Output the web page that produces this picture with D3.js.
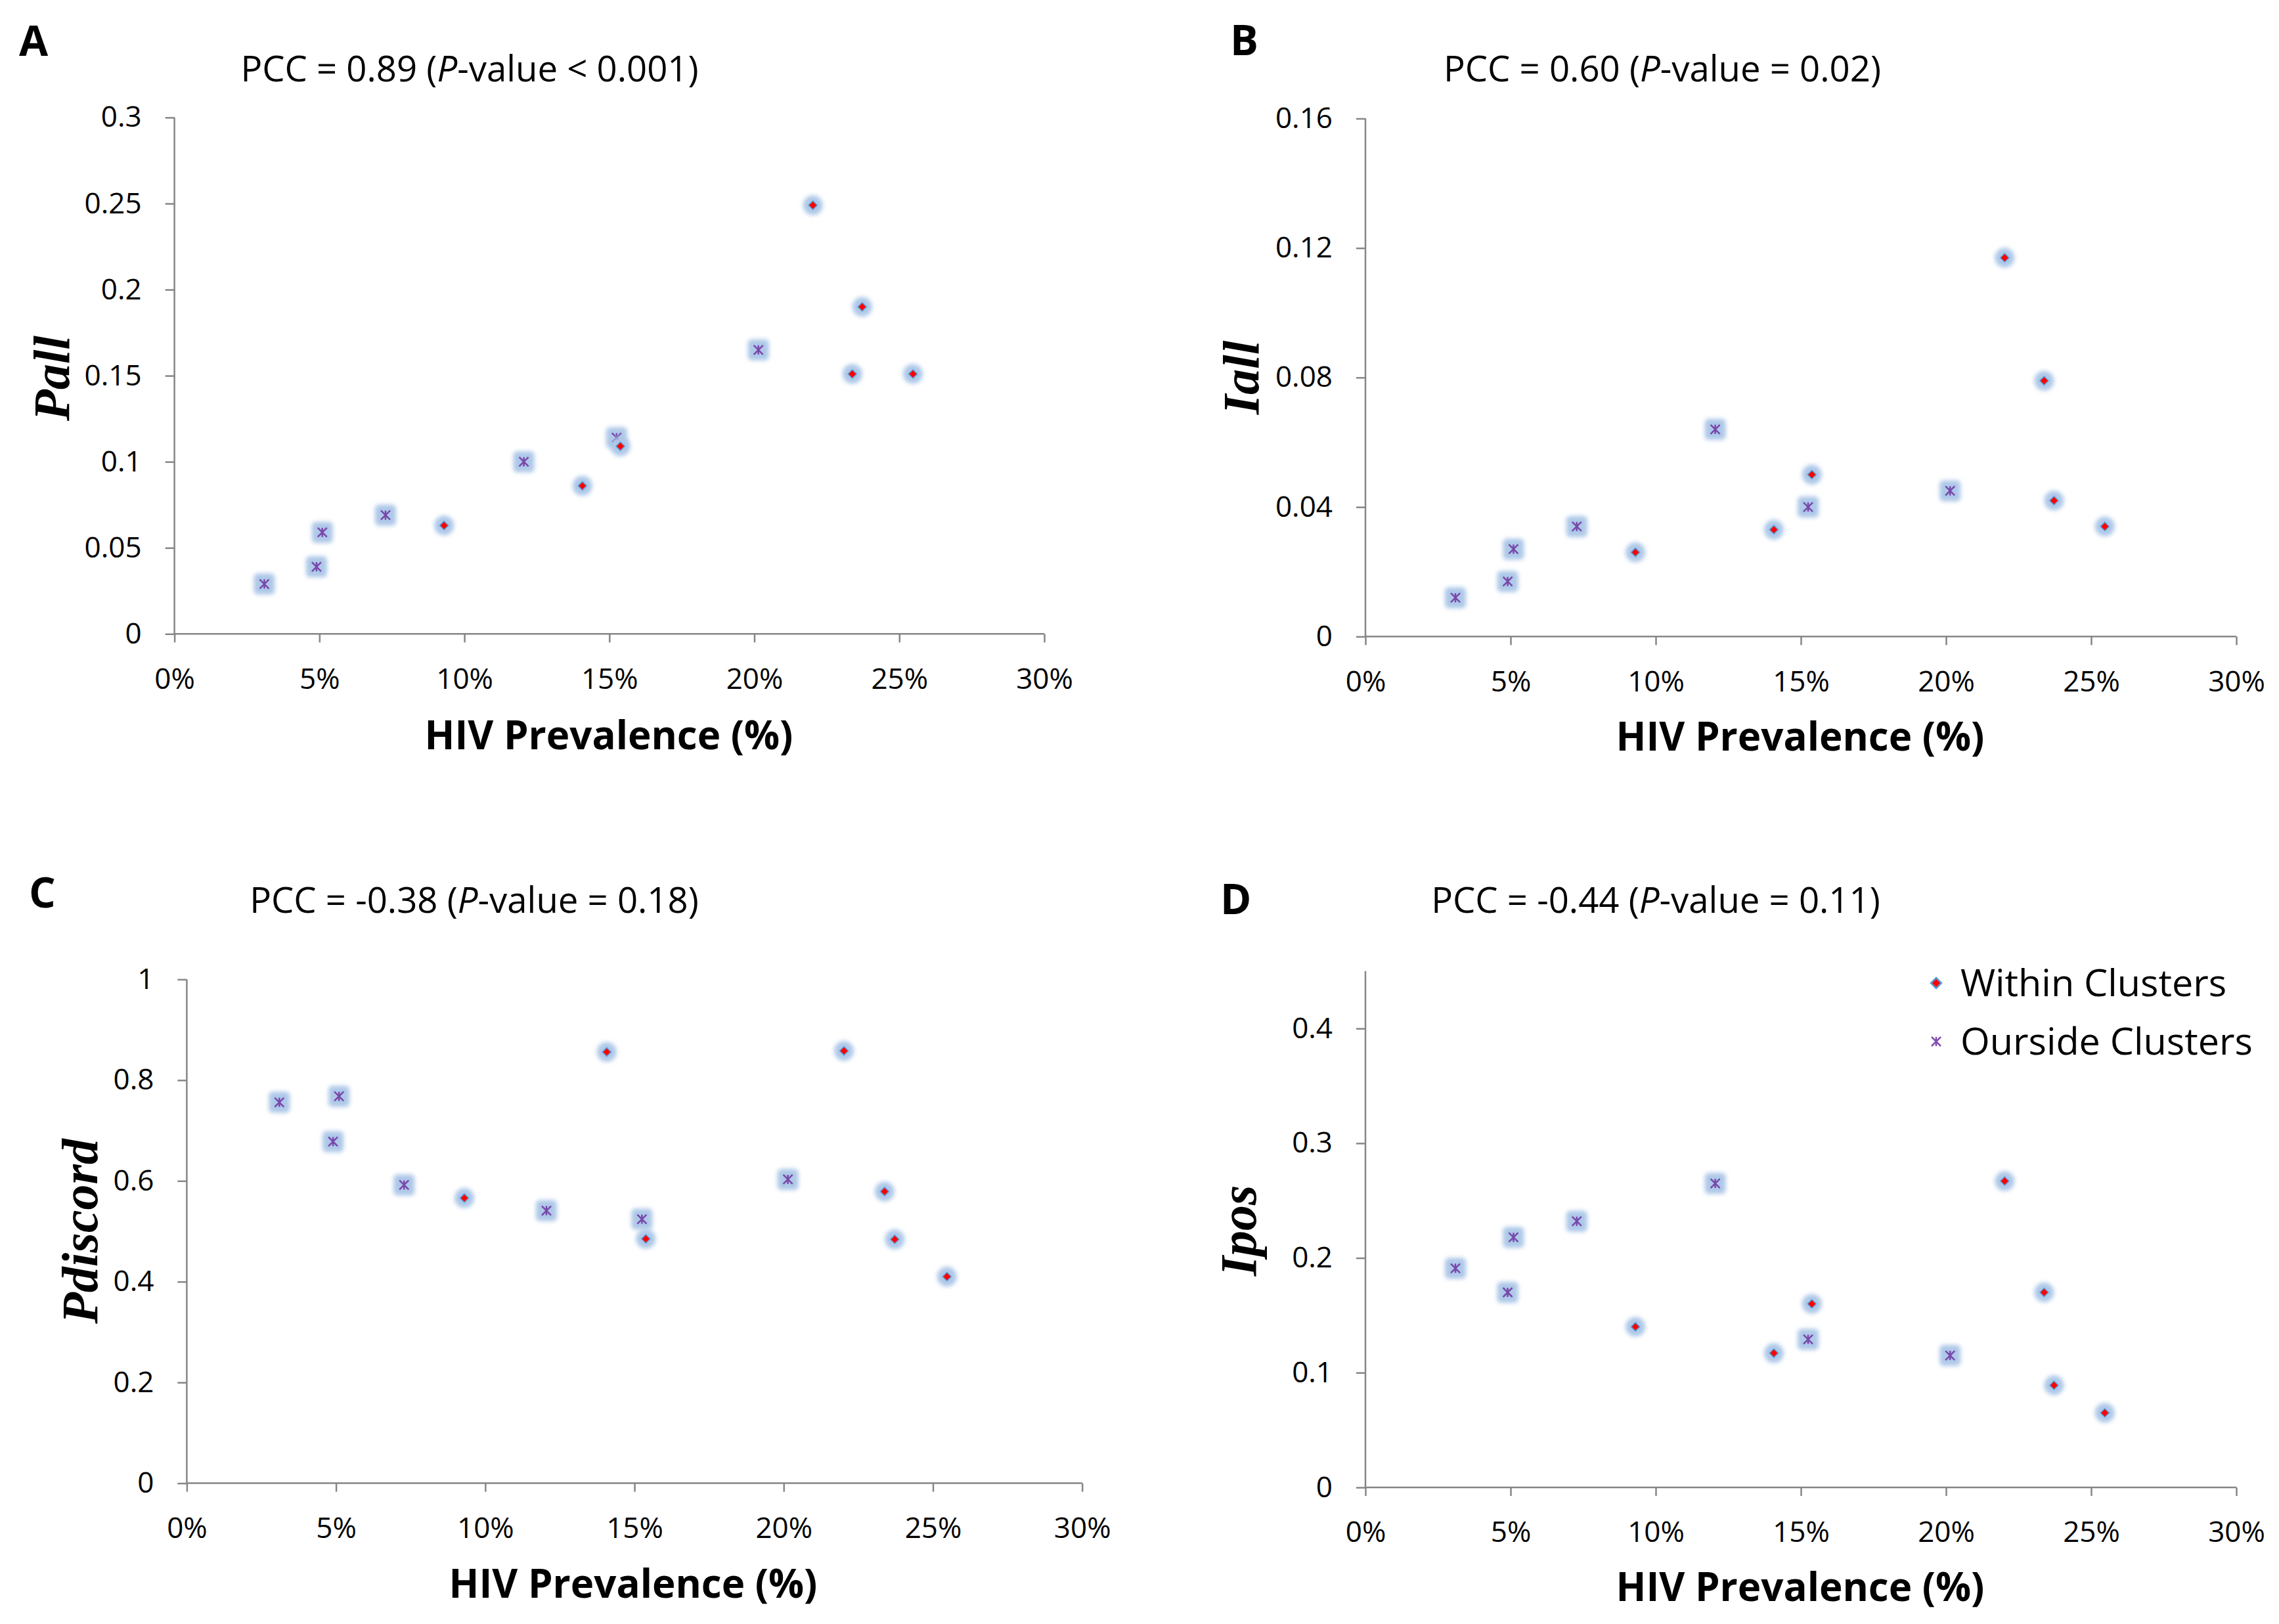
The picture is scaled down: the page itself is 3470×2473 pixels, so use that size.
<!DOCTYPE html>
<html>
<head>
<meta charset="utf-8">
<script src="https://cdn.jsdelivr.net/npm/d3@7"></script>
<style>
  body { margin: 0; background: #fff; }
  svg { display: block; }
  .tick text { font-family: "Open Sans", sans-serif; font-size: 44px; fill: #000; }
</style>
</head>
<body>
<svg width="3470" height="2473"></svg>
<script>
// HIV prevalence (%) per site, same sites in every panel
var prevOutside = [3.1, 4.9, 5.1, 7.28, 12.05, 15.25, 20.14];
var prevWithin  = [9.3, 14.07, 15.38, 22.02, 23.38, 23.72, 25.47];

// panel A: Pall
var pallOutside = [0.029, 0.039, 0.059, 0.069, 0.100, 0.114, 0.165];
var pallWithin  = [0.063, 0.086, 0.109, 0.249, 0.151, 0.190, 0.151];
// panel B: Iall
var iallOutside = [0.012, 0.017, 0.027, 0.034, 0.064, 0.040, 0.045];
var iallWithin  = [0.026, 0.033, 0.050, 0.117, 0.079, 0.042, 0.034];
// panel C: Pdiscord
var pdiscOutside = [0.756, 0.678, 0.768, 0.592, 0.541, 0.524, 0.603];
var pdiscWithin  = [0.566, 0.856, 0.485, 0.858, 0.579, 0.484, 0.410];
// panel D: Ipos
var iposOutside = [0.191, 0.170, 0.218, 0.232, 0.265, 0.129, 0.115];
var iposWithin  = [0.140, 0.117, 0.160, 0.267, 0.170, 0.089, 0.065];

var xTicks = [0, 5, 10, 15, 20, 25, 30];
var yTicksA = [0, 0.05, 0.1, 0.15, 0.2, 0.25, 0.3];
var yTicksB = [0, 0.04, 0.08, 0.12, 0.16];
var yTicksC = [0, 0.2, 0.4, 0.6, 0.8, 1];
var yTicksD = [0, 0.1, 0.2, 0.3, 0.4];

var panelLetters = ["A", "B", "C", "D"];
var yTitles = ["Pall", "Iall", "Pdiscord", "Ipos"];
var pccTexts = [
  ["PCC = 0.89 (", "P", "-value < 0.001)"],
  ["PCC = 0.60 (", "P", "-value = 0.02)"],
  ["PCC = -0.38 (", "P", "-value = 0.18)"],
  ["PCC = -0.44 (", "P", "-value = 0.11)"]
];
var legendLabels = ["Within Clusters", "Ourside Clusters"];

var svg = d3.select("svg");

var defs = svg.append("defs");
defs.append("filter").attr("id", "glow")
    .attr("x", "-50%").attr("y", "-50%").attr("width", "200%").attr("height", "200%")
  .append("feGaussianBlur").attr("stdDeviation", 3);

// layout of each panel (pixels)
var panels = [
  { letter: [29, 85], title: [715, 124], x: [265.6, 1590], y: [965.3, 178.9], yMax: 0.3,
    ticks: yTicksA, ytitle: [105, 576], xtitle: [927, 1141],
    outside: pallOutside, within: pallWithin },
  { letter: [1873, 84], title: [2531, 124], x: [2079, 3405], y: [969.3, 180.5], yMax: 0.16,
    ticks: yTicksB, ytitle: [1916, 575], xtitle: [2741, 1143],
    outside: iallOutside, within: iallWithin },
  { letter: [44, 1382], title: [722, 1390], x: [284.4, 1647.7], y: [2258.6, 1491.4], yMax: 1,
    ticks: yTicksC, ytitle: [148, 1875], xtitle: [964, 2433],
    outside: pdiscOutside, within: pdiscWithin },
  { letter: [1858, 1392], title: [2521, 1390], x: [2079, 3405], y: [2265, 1478.8], yMax: 0.45,
    ticks: yTicksD, ytitle: [1912, 1874], xtitle: [2741, 2438],
    outside: iposOutside, within: iposWithin }
];

function drawDiamond(g, cx, cy, r) {
  g.append("circle").attr("cx", cx).attr("cy", cy).attr("r", 15)
      .attr("fill", "#adc8e8").attr("filter", "url(#glow)");
  g.append("path")
      .attr("d", "M" + cx + "," + (cy - r) + "L" + (cx + r) + "," + cy + "L" + cx + "," + (cy + r) + "L" + (cx - r) + "," + cy + "Z")
      .attr("fill", "#ff0000").attr("stroke", "#5b9bd5").attr("stroke-width", 1.5);
}

function drawStar(g, cx, cy, r, glow) {
  if (glow) {
    g.append("rect").attr("x", cx - 16).attr("y", cy - 16).attr("width", 32).attr("height", 32)
        .attr("rx", 6).attr("fill", "#adc8e8").attr("filter", "url(#glow)");
  }
  g.append("path")
      .attr("d", "M" + (cx - r) + "," + (cy - r) + "L" + (cx + r) + "," + (cy + r) +
                 "M" + (cx + r) + "," + (cy - r) + "L" + (cx - r) + "," + (cy + r) +
                 "M" + cx + "," + (cy - r) + "L" + cx + "," + (cy + r))
      .attr("stroke", "#7030a0").attr("stroke-width", 2.5).attr("fill", "none").attr("opacity", 0.85);
}

panels.forEach(function (p, i) {
  var g = svg.append("g");

  var x = d3.scaleLinear().domain([0, 30]).range(p.x);
  var y = d3.scaleLinear().domain([0, p.yMax]).range(p.y);

  // axes
  var xa = g.append("g").attr("transform", "translate(0," + p.y[0] + ")")
      .call(d3.axisBottom(x).tickValues(xTicks).tickSize(13).tickPadding(39)
        .tickFormat(function (d) { return d + "%"; }));
  var ya = g.append("g").attr("transform", "translate(" + p.x[0] + ",0)")
      .call(d3.axisLeft(y).tickValues(p.ticks).tickSize(14).tickPadding(36)
        .tickFormat(function (d) { return String(+d.toFixed(3)); }));
  [xa, ya].forEach(function (a) {
    a.selectAll("path, line").attr("stroke", "#868686").attr("stroke-width", 2.5);
    a.select(".domain").attr("d", a === xa
      ? "M" + p.x[0] + ",0H" + p.x[1]
      : "M0," + p.y[0] + "V" + p.y[1]);
  });

  // panel letter
  g.append("text").attr("x", p.letter[0]).attr("y", p.letter[1])
      .attr("font-family", "Open Sans").attr("font-weight", "bold").attr("font-size", 64)
      .text(panelLetters[i]);

  // PCC title
  var t = g.append("text").attr("x", p.title[0]).attr("y", p.title[1])
      .attr("text-anchor", "middle").attr("font-family", "Open Sans").attr("font-size", 54.5);
  t.append("tspan").text(pccTexts[i][0]);
  t.append("tspan").attr("font-style", "italic").text(pccTexts[i][1]);
  t.append("tspan").text(pccTexts[i][2]);

  // axis titles
  g.append("text").attr("x", p.xtitle[0]).attr("y", p.xtitle[1])
      .attr("text-anchor", "middle").attr("font-family", "Open Sans").attr("font-weight", "bold")
      .attr("font-size", 60).text("HIV Prevalence (%)");
  g.append("text")
      .attr("transform", "translate(" + p.ytitle[0] + "," + p.ytitle[1] + ") rotate(-90)")
      .attr("text-anchor", "middle").attr("font-family", "Liberation Serif")
      .attr("font-weight", "bold").attr("font-style", "italic").attr("font-size", 78)
      .text(yTitles[i]);

  // points
  var pts = g.append("g");
  p.outside.forEach(function (v, k) {
    drawStar(pts, x(prevOutside[k]), y(v), 7, true);
  });
  p.within.forEach(function (v, k) {
    drawDiamond(pts, x(prevWithin[k]), y(v), 6.5);
  });
});

// legend (panel D)
var lg = svg.append("g");
legendLabels.forEach(function (name, k) {
  var cy = 1497 + k * 89;
  if (k === 0) {
    lg.append("path").attr("d", "M2948," + (cy - 8) + "L2956," + cy + "L2948," + (cy + 8) + "L2940," + cy + "Z")
        .attr("fill", "#ff0000").attr("stroke", "#5b9bd5").attr("stroke-width", 2.5);
  } else {
    drawStar(lg, 2948, cy, 7, false);
  }
  lg.append("text").attr("x", 2985).attr("y", cy + 20)
      .attr("font-family", "Open Sans").attr("font-size", 57.5).text(name);
});
</script>
</body>
</html>
